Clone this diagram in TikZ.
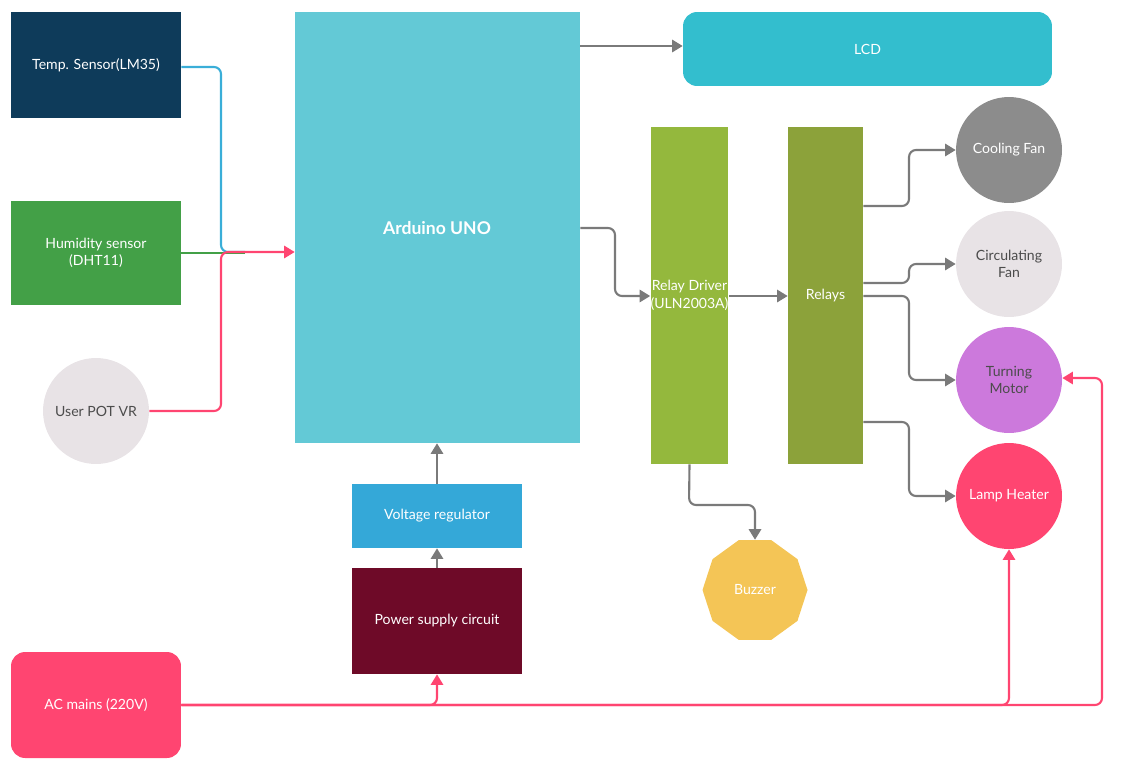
\documentclass[tikz,border=0pt]{standalone}
\usepackage{fontspec}
\setmainfont{Lato}
\usetikzlibrary{shapes.geometric,arrows.meta}
\definecolor{navy}{HTML}{0E3B5A}
\definecolor{leaf}{HTML}{43A047}
\definecolor{pale}{HTML}{E8E3E6}
\definecolor{uno}{HTML}{63C9D6}
\definecolor{lcdc}{HTML}{33BECE}
\definecolor{drv}{HTML}{94B83D}
\definecolor{rly}{HTML}{8CA23A}
\definecolor{fan}{HTML}{8C8C8C}
\definecolor{motor}{HTML}{CC79DC}
\definecolor{hot}{HTML}{FF4571}
\definecolor{buzz}{HTML}{F4C556}
\definecolor{reg}{HTML}{34A8D8}
\definecolor{psu}{HTML}{6E0A28}
\definecolor{wire}{HTML}{7A7A7A}
\definecolor{sky}{HTML}{3AAED8}
\tikzset{
  blk/.style={draw=none,text=white,font=\fontsize{8}{10}\selectfont,align=center,inner sep=0pt},
  circ/.style={circle,minimum size=2.12cm,draw=none,font=\fontsize{8}{10}\selectfont,align=center},
  link/.style={wire,line width=1.2pt,rounded corners=4pt,-{Triangle[length=6pt,width=7pt]}},
  mains/.style={hot,line width=1.2pt,rounded corners=4pt,-{Triangle[length=6pt,width=7pt]}}
}
\begin{document}
\begin{tikzpicture}[x=0.02cm,y=-0.02cm]
            \useasboundingbox (0,0) rectangle (1121,771);

            \node[blk,fill=navy,minimum width=3.4cm,minimum height=2.12cm] (temp) at (96,65) {Temp. Sensor(LM35)};
            \node[blk,fill=leaf,minimum width=3.4cm,minimum height=2.1cm] (hum) at (96,253) {Humidity sensor\\(DHT11)};
            \node[circ,fill=pale,text=black!70] (pot) at (96,411) {User POT VR};

            \node[blk,fill=uno,minimum width=5.7cm,minimum height=8.62cm] (uno) at (437.5,227.5) {};
            \node[text=white,font=\fontsize{10}{12}\selectfont\bfseries] (unolbl) at (437,228) {Arduino UNO};

            \node[blk,fill=lcdc,rounded corners=8pt,minimum width=7.38cm,minimum height=1.48cm] (lcd) at (867.5,49) {LCD};

            \node[blk,fill=drv,minimum width=1.5cm,minimum height=6.74cm] (drv) at (689.5,295.5) {Relay Driver\\(ULN2003A)};
            \node[blk,fill=rly,minimum width=1.5cm,minimum height=6.74cm] (rly) at (825.5,295.5) {Relays};

            \node[circ,fill=fan,text=white] (cool) at (1009,150) {Cooling Fan};
            \node[circ,fill=pale,text=black!70] (circf) at (1009,264) {Circulating\\Fan};
            \node[circ,fill=motor,text=black!70] (motor) at (1009,380) {Turning\\Motor};
            \node[circ,fill=hot,text=white] (lamp) at (1009,496) {Lamp Heater};

            \node[regular polygon,regular polygon sides=10,fill=buzz,minimum size=2.1cm,inner sep=0pt,text=white,font=\fontsize{8}{10}\selectfont] (buzz) at (755,590) {Buzzer};

            \node[blk,fill=reg,minimum width=3.4cm,minimum height=1.28cm] (reg) at (437,516) {Voltage regulator};
            \node[blk,fill=psu,minimum width=3.4cm,minimum height=2.12cm] (psu) at (437,621) {Power supply circuit};
            \node[blk,fill=hot,rounded corners=8pt,minimum width=3.4cm,minimum height=2.12cm] (ac) at (96,705) {AC mains (220V)};

            % sensors into the board
            \draw[sky,line width=1.2pt,rounded corners=4pt] (temp.east |- 0,67) -- (221,67) -- (221,252) -- (245,252);
            \draw[leaf,line width=1.2pt] (hum.east) -- (245,253);
            \draw[mains] (pot.east) -- (221,411) -- (221,252) -- (uno.west |- 0,252);

            % board outputs
            \draw[link] (uno.east |- 0,46) -- (lcd.west |- 0,46);
            \draw[link] (uno.east |- 0,228) -- (615,228) -- (615,296) -- (drv.west |- 0,296);
            \draw[link] (drv.east |- 0,296) -- (rly.west |- 0,296);
            \draw[link] (rly.east |- 0,206) -- (909,206) -- (909,150) -- (cool.west);
            \draw[link] (rly.east |- 0,283) -- (909,283) -- (909,264) -- (circf.west);
            \draw[link] (rly.east |- 0,296) -- (909,296) -- (909,380) -- (motor.west);
            \draw[link] (rly.east |- 0,422) -- (909,422) -- (909,496) -- (lamp.west);
            \draw[link] (drv.south) -- (689,505) -- (755,505) -- (buzz.north);

            % supply chain
            \draw[link] (reg.north) -- (uno.south -| reg.north);
            \draw[link] (psu.north) -- (reg.south);
            \draw[mains] (ac.east) -- (437,705) -- (psu.south);
            \draw[mains] (ac.east) -- (1009,705) -- (lamp.south);
            \draw[mains] (ac.east) -- (1102,705) -- (1102,378) -- (motor.east |- 0,378);
\end{tikzpicture}
\end{document}
